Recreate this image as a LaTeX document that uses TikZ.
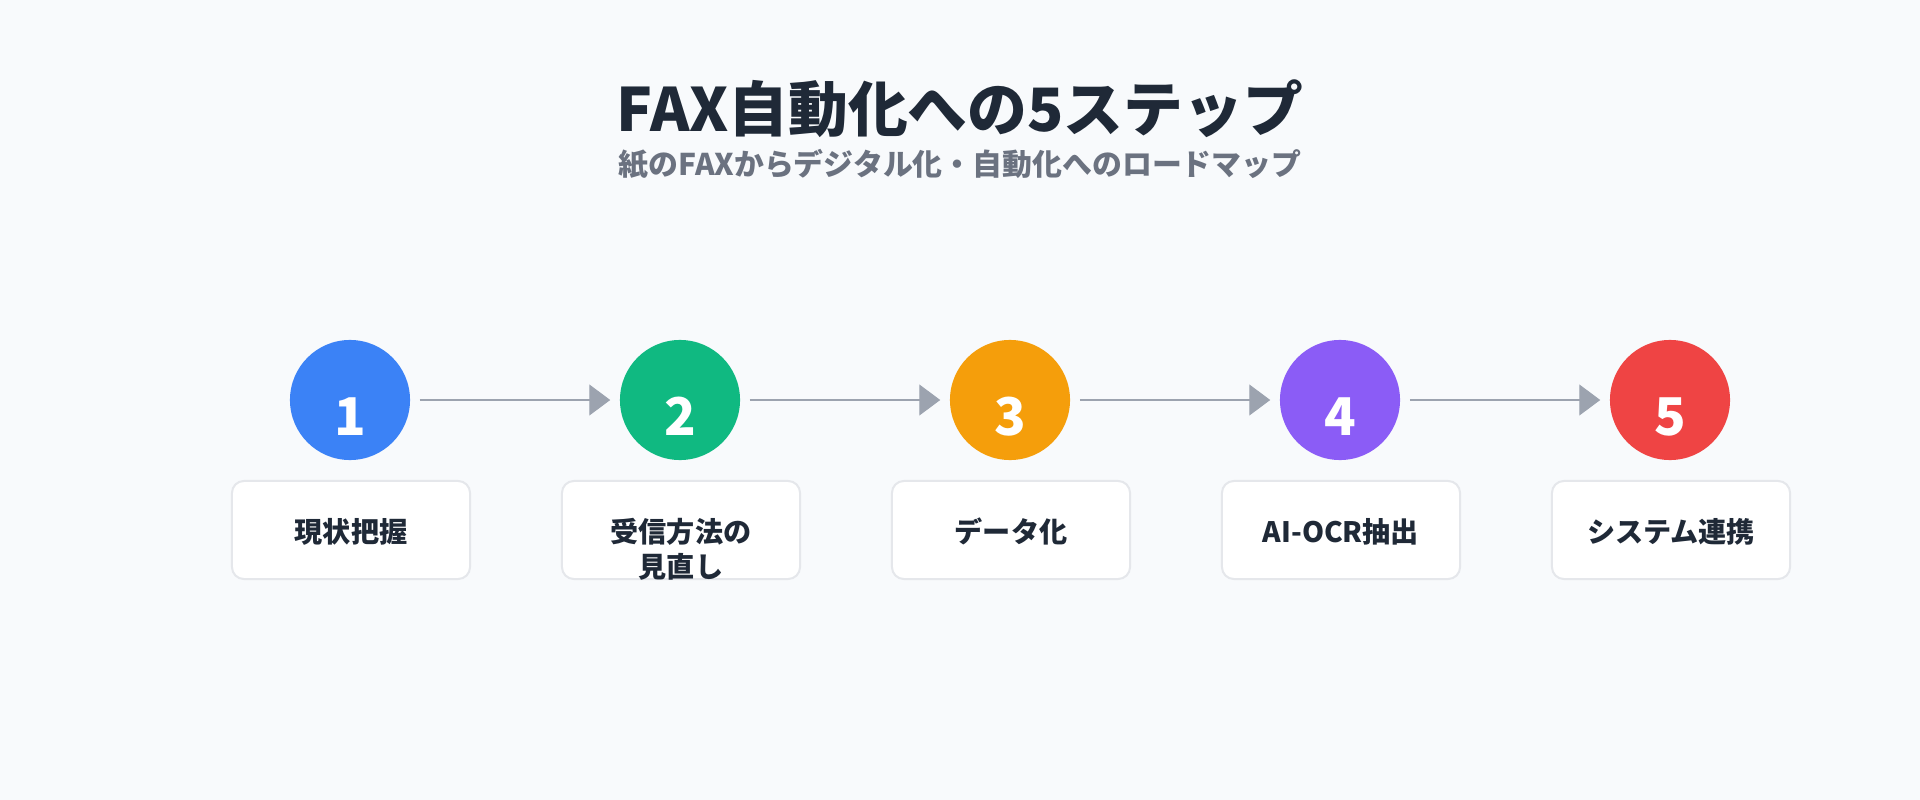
\documentclass[tikz,border=0pt]{standalone}
\usepackage{fontspec}
\setmainfont{Noto Sans CJK JP}
\usetikzlibrary{arrows.meta}
\definecolor{bgcol}{HTML}{F8FAFC}
\definecolor{ink}{HTML}{1F2937}
\definecolor{subgray}{HTML}{6B7280}
\definecolor{arrowgray}{HTML}{9CA3AF}
\definecolor{boxline}{HTML}{E5E7EB}
\definecolor{stepblue}{HTML}{3B82F6}
\definecolor{stepgreen}{HTML}{10B981}
\definecolor{steporange}{HTML}{F59E0B}
\definecolor{steppurple}{HTML}{8B5CF6}
\definecolor{stepred}{HTML}{EF4444}

\begin{document}
\begin{tikzpicture}[x=0.01cm,y=-0.01cm,
    num/.style={circle,minimum size=1.2cm,inner sep=0pt},
    digit/.style={anchor=base,text=white,font=\fontsize{14.8}{16}\selectfont\bfseries},
    stepbox/.style={draw=boxline,line width=0.57pt,fill=white,rounded corners=0.12cm,
      minimum width=2.38cm,minimum height=0.98cm,inner sep=0pt},
    lbl/.style={anchor=base,text=ink,font=\fontsize{8}{10}\selectfont\bfseries},
    flow/.style={draw=arrowgray,line width=0.4pt,-{Triangle[length=5.97pt,width=8.8pt]},
      shorten <=0.09cm,shorten >=0.09cm}]
  \fill[bgcol] (0,0) rectangle (1920,800);
  % title
  \node[anchor=base,text=ink,font=\fontsize{17}{20}\selectfont\bfseries] (title) at (960,131) {FAX自動化への5ステップ};
  \node[anchor=base,text=subgray,font=\fontsize{8.5}{10}\selectfont\bfseries] (subtitle) at (960,175) {紙のFAXからデジタル化・自動化へのロードマップ};
  % circles
  \node[num,fill=stepblue] (c1) at (350,400) {};
  \node[num,fill=stepgreen] (c2) at (680,400) {};
  \node[num,fill=steporange] (c3) at (1010,400) {};
  \node[num,fill=steppurple] (c4) at (1340,400) {};
  \node[num,fill=stepred] (c5) at (1670,400) {};
  \node[digit] (d1) at (350,435) {1};
  \node[digit] (d2) at (680,435) {2};
  \node[digit] (d3) at (1010,435) {3};
  \node[digit] (d4) at (1340,435) {4};
  \node[digit] (d5) at (1670,435) {5};
  % arrows
  \draw[flow] (c1) -- (c2);
  \draw[flow] (c2) -- (c3);
  \draw[flow] (c3) -- (c4);
  \draw[flow] (c4) -- (c5);
  % boxes
  \node[stepbox] (b1) at (351,530) {};
  \node[stepbox] (b2) at (681,530) {};
  \node[stepbox] (b3) at (1011,530) {};
  \node[stepbox] (b4) at (1341,530) {};
  \node[stepbox] (b5) at (1671,530) {};
  \node[lbl] (t1) at (351,542) {現状把握};
  \node[lbl] (t2a) at (681,542) {受信方法の};
  \node[lbl] (t2b) at (681,577) {見直し};
  \node[lbl] (t3) at (1011,542) {データ化};
  \node[lbl] (t4) at (1341,542) {AI-OCR抽出};
  \node[lbl] (t5) at (1671,542) {システム連携};
\end{tikzpicture}
\end{document}
